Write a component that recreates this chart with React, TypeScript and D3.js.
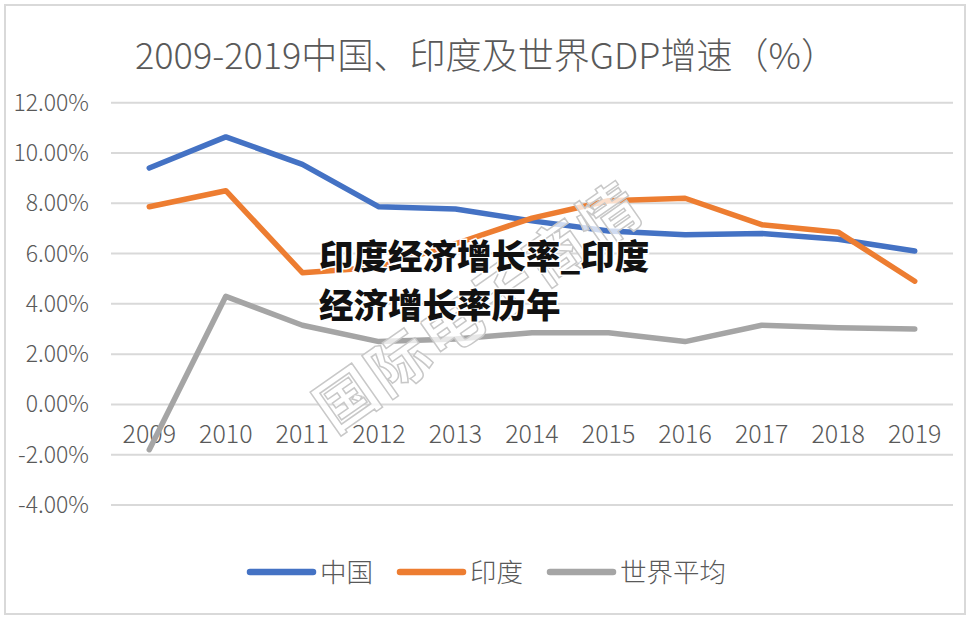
import React from "react";
import * as d3 from "d3";

const years = ["2009","2010","2011","2012","2013","2014","2015","2016","2017","2018","2019"];
const china = [9.4, 10.64, 9.55, 7.86, 7.77, 7.3, 6.9, 6.75, 6.8, 6.57, 6.1];
const india = [7.86, 8.5, 5.24, 5.46, 6.39, 7.41, 8.1, 8.2, 7.15, 6.85, 4.9];
const world = [-1.8, 4.3, 3.15, 2.5, 2.6, 2.85, 2.85, 2.5, 3.15, 3.05, 3.0];
const yTicks = [12, 10, 8, 6, 4, 2, 0, -2, -4];
const seriesNames = ["中国", "印度", "世界平均"];
const colors = ["#4472C4", "#ED7D31", "#A5A5A5"];
const title = "2009-2019中国、印度及世界GDP增速（%）";
const overlay1 = "印度经济增长率_印度";
const overlay2 = "经济增长率历年";
const watermark = "国际电子商情";

const W = 970, H = 620;
const FONT = "'Noto Sans CJK SC', 'Noto Sans', sans-serif";

export default function App() {
  const x = d3.scaleBand<string>().domain(years).range([111, 953]).padding(0);
  const y = d3.scaleLinear().domain([-4, 12]).range([505, 102.7]);
  const cx = (yr: string) => (x(yr) as number) + x.bandwidth() / 2;
  const line = d3.line<number>().x((_, i) => cx(years[i])).y((d) => y(d));
  const series = [china, india, world];

  const legendX = [250, 400, 550];

  return (
    <svg width={W} height={H} style={{ position: "absolute", left: 0, top: 0, background: "#fff" }} fontFamily={FONT}>
      <rect x={0} y={0} width={W} height={H} fill="#fff" />
      <rect x={5} y={5} width={960} height={609} fill="none" stroke="#d9d9d9" strokeWidth={2} />
      <text x={135} y={69} fontSize={36} fill="#595959" fontWeight={300} textLength={702} lengthAdjust="spacingAndGlyphs">{title}</text>
      {yTicks.map((t) => (
        <g key={t}>
          <line x1={111} x2={953} y1={y(t)} y2={y(t)} stroke="#d9d9d9" strokeWidth={2} />
          <text x={89} y={y(t) + 8} textAnchor="end" fontSize={23} fill="#595959" fontWeight={300}>
            {t.toFixed(2) + "%"}
          </text>
        </g>
      ))}
      {years.map((yr) => (
        <text key={yr} x={cx(yr)} y={443} textAnchor="middle" fontSize={25} fill="#595959" fontWeight={300}>{yr}</text>
      ))}
      {series.map((s, i) => (
        <path key={i} d={line(s) || ""} fill="none" stroke={colors[i]} strokeWidth={5.5} strokeLinejoin="round" strokeLinecap="round" />
      ))}
      {seriesNames.map((n, i) => (
        <g key={n}>
          <line x1={legendX[i]} x2={legendX[i] + 63} y1={572} y2={572} stroke={colors[i]} strokeWidth={6.5} strokeLinecap="round" />
          <text x={legendX[i] + 70} y={582} fontSize={26.5} fill="#595959" fontWeight={300}>{n}</text>
        </g>
      ))}
      <text x={480} y={328} textAnchor="middle" fontSize={60} fontWeight={700} fill="#ffffff" fillOpacity={0.75}
        stroke="#c8c8c8" strokeWidth={1.5} transform="rotate(-35 480 308)" letterSpacing={4}>{watermark}</text>
      <g fontSize={34.5} fontWeight={900} fill="#111" stroke="#fff" strokeWidth={3} style={{ paintOrder: "stroke" }}>
        <text x={319} y={269}>{overlay1}</text>
        <text x={319} y={318}>{overlay2}</text>
      </g>
    </svg>
  );
}
